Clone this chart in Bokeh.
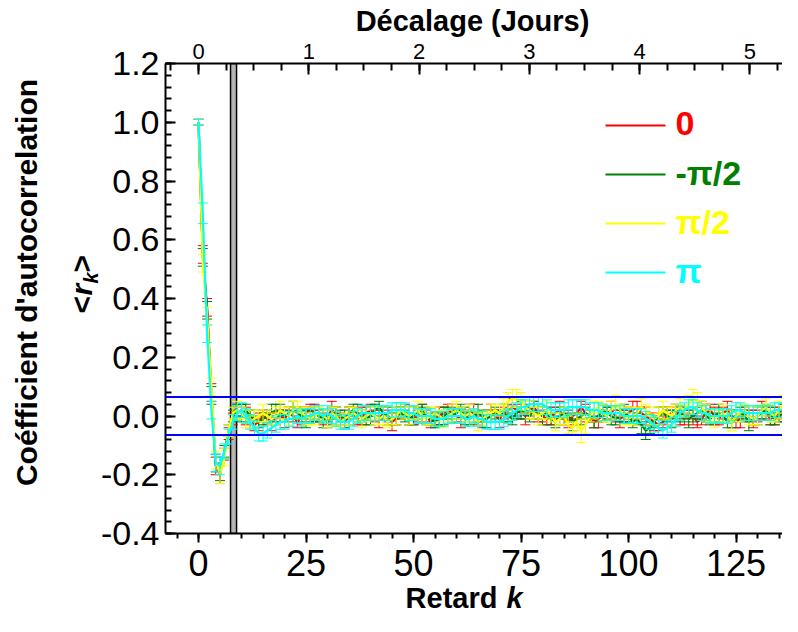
import numpy as np
from bokeh.plotting import figure
from bokeh.models import LinearAxis, Range1d, FixedTicker, PrintfTickFormatter, Span, Label
from bokeh.core.properties import value
from bokeh.embed import file_html
from bokeh.resources import INLINE

# ---------------- data ----------------
lags = list(range(140))

r_0 = [1.00, 0.55, 0.37, 0.08, -0.17, -0.20, -0.13, -0.06, -0.01, 0.01,
       0.02, 0.00, -0.02, -0.03, -0.02, 0.00, -0.01, -0.02, -0.01, 0.00,
       -0.01, 0.01, 0.00, -0.02, 0.00, 0.01, 0.02, 0.01, 0.00, -0.01,
       0.00, 0.02, 0.01, -0.01, -0.02, 0.00, 0.01, -0.01, 0.00, 0.01,
       0.02, 0.00, -0.01, 0.01, 0.00, -0.02, -0.01, 0.01, 0.02, 0.00,
       -0.01, 0.00, 0.01, 0.00, -0.02, -0.01, 0.00, 0.01, 0.02, 0.01,
       0.00, -0.01, 0.00, 0.02, 0.01, -0.01, -0.02, 0.00, 0.01, 0.00,
       -0.01, 0.01, 0.02, 0.03, 0.02, 0.01, 0.00, 0.02, 0.03, 0.01,
       0.00, -0.01, 0.00, 0.01, 0.02, -0.01, -0.02, 0.00, 0.01, 0.03,
       0.01, 0.00, -0.02, -0.01, 0.00, 0.01, 0.02, 0.00, -0.01, 0.00,
       0.01, 0.02, 0.03, 0.01, 0.00, -0.01, -0.02, -0.03, -0.02, 0.00,
       0.01, 0.02, 0.00, -0.01, 0.01, 0.00, -0.02, -0.01, 0.01, 0.02,
       0.00, -0.01, 0.01, 0.02, 0.00, -0.02, -0.01, 0.01, 0.00, -0.01,
       0.00, 0.02, 0.01, -0.01, 0.00, 0.01, 0.02, 0.00, -0.01, 0.01]

r_mpi2 = [1.00, 0.54, 0.36, 0.07, -0.16, -0.19, -0.12, -0.05, 0.00, 0.02,
          0.01, 0.02, 0.00, -0.01, -0.02, -0.01, 0.00, 0.01, 0.02, 0.01,
          0.00, 0.01, 0.02, 0.01, 0.00, -0.01, 0.00, 0.01, 0.00, -0.01,
          -0.02, 0.00, 0.01, 0.00, -0.01, 0.01, 0.02, 0.01, 0.00, -0.01,
          0.00, 0.02, 0.03, 0.01, 0.00, -0.01, 0.00, 0.01, 0.00, -0.01,
          0.00, 0.01, 0.02, 0.00, -0.01, -0.02, -0.01, 0.00, 0.01, 0.00,
          0.01, 0.02, 0.00, -0.01, 0.00, 0.01, 0.00, -0.01, 0.00, 0.01,
          0.00, 0.01, 0.00, -0.01, 0.01, 0.02, 0.01, 0.00, 0.02, 0.01,
          0.00, 0.01, -0.01, -0.02, 0.00, 0.01, 0.00, -0.02, -0.01, 0.00,
          0.01, 0.00, -0.01, 0.00, 0.02, 0.01, 0.00, -0.01, 0.00, 0.01,
          0.00, -0.02, -0.01, -0.03, -0.05, -0.04, -0.02, 0.00, 0.01, 0.00,
          -0.01, 0.00, 0.01, 0.00, -0.01, 0.00, 0.01, 0.02, 0.00, -0.01,
          0.00, 0.01, 0.00, -0.02, -0.01, 0.00, 0.01, 0.00, -0.02, -0.01,
          0.00, 0.01, 0.02, 0.00, -0.01, 0.00, 0.01, 0.00, -0.01, 0.00]

r_pi2 = [1.00, 0.52, 0.34, 0.10, -0.15, -0.20, -0.14, -0.05, 0.01, 0.02,
         0.01, -0.01, -0.02, -0.01, 0.00, 0.01, 0.00, -0.01, 0.00, 0.02,
         0.01, 0.00, 0.02, 0.03, 0.01, 0.00, -0.01, 0.00, 0.01, 0.00,
         -0.01, 0.01, 0.00, -0.02, -0.01, 0.00, 0.01, 0.00, -0.01, 0.00,
         0.01, 0.00, -0.01, 0.00, -0.02, -0.01, 0.00, 0.02, 0.01, 0.00,
         0.01, 0.02, 0.00, -0.01, 0.00, 0.01, 0.00, -0.01, 0.00, 0.01,
         0.02, 0.01, 0.00, 0.01, 0.00, -0.02, -0.01, 0.00, 0.01, 0.02,
         0.01, 0.03, 0.05, 0.06, 0.06, 0.05, 0.03, 0.02, 0.01, 0.00,
         0.01, 0.02, 0.00, -0.02, -0.01, 0.00, -0.03, -0.04, -0.02, -0.05,
         -0.03, 0.00, 0.02, 0.03, 0.01, 0.00, 0.02, 0.04, 0.02, 0.00,
         -0.01, 0.00, 0.01, 0.03, 0.02, 0.00, -0.01, 0.00, 0.02, 0.01,
         0.00, 0.02, 0.03, 0.02, 0.04, 0.06, 0.05, 0.03, 0.01, 0.00,
         -0.01, 0.00, 0.01, 0.00, -0.02, 0.00, 0.01, 0.02, 0.00, -0.01,
         0.00, 0.02, 0.03, 0.01, 0.00, 0.02, 0.04, 0.02, 0.01, 0.00]

r_pi = [1.00, 0.69, 0.28, 0.02, -0.16, -0.17, -0.12, -0.07, -0.02, 0.01,
        0.02, 0.00, -0.02, -0.04, -0.06, -0.06, -0.05, -0.04, -0.03, -0.02,
        -0.02, -0.01, -0.01, 0.00, -0.01, 0.00, 0.00, 0.01, 0.01, 0.00,
        0.01, 0.00, -0.01, -0.02, -0.02, -0.02, -0.01, 0.00, 0.01, 0.01,
        0.01, 0.01, 0.01, 0.01, 0.01, 0.02, 0.02, 0.02, 0.02, 0.01,
        0.01, 0.00, 0.00, 0.00, 0.00, -0.01, -0.01, -0.01, 0.00, 0.00,
        0.00, 0.00, -0.01, -0.01, 0.00, -0.01, -0.01, -0.02, -0.02, -0.02,
        -0.02, -0.01, 0.00, 0.01, 0.02, 0.03, 0.03, 0.04, 0.04, 0.04,
        0.04, 0.03, 0.02, 0.02, 0.02, 0.02, 0.03, 0.03, 0.03, 0.03,
        0.03, 0.02, 0.02, 0.02, 0.01, 0.01, 0.01, 0.01, 0.01, 0.00,
        0.00, 0.00, 0.00, 0.00, -0.01, -0.02, -0.03, -0.04, -0.05, -0.04,
        -0.03, -0.01, 0.01, 0.02, 0.03, 0.03, 0.02, 0.01, 0.01, 0.00,
        0.00, 0.00, 0.00, 0.00, 0.01, 0.02, 0.02, 0.01, 0.01, 0.01,
        0.01, 0.01, 0.01, 0.01, 0.02, 0.02, 0.02, 0.02, 0.03, 0.03]

e_0 = [0.01, 0.03, 0.03, 0.03, 0.03, 0.03, 0.02, 0.02, 0.02, 0.02,
       0.02, 0.03, 0.02, 0.02, 0.03, 0.02, 0.02, 0.03, 0.02, 0.02,
       0.03, 0.02, 0.02, 0.02, 0.03, 0.02, 0.02, 0.03, 0.02, 0.02,
       0.02, 0.03, 0.02, 0.02, 0.02, 0.03, 0.02, 0.02, 0.03, 0.02,
       0.02, 0.02, 0.03, 0.02, 0.02, 0.03, 0.02, 0.02, 0.02, 0.03,
       0.02, 0.02, 0.03, 0.02, 0.02, 0.02, 0.03, 0.02, 0.02, 0.03,
       0.02, 0.03, 0.02, 0.02, 0.03, 0.02, 0.02, 0.02, 0.03, 0.02,
       0.03, 0.02, 0.02, 0.03, 0.02, 0.02, 0.03, 0.02, 0.02, 0.03,
       0.02, 0.02, 0.03, 0.02, 0.03, 0.02, 0.02, 0.03, 0.02, 0.02,
       0.03, 0.02, 0.02, 0.03, 0.02, 0.02, 0.03, 0.02, 0.03, 0.02,
       0.02, 0.03, 0.02, 0.02, 0.03, 0.02, 0.03, 0.02, 0.02, 0.03,
       0.02, 0.02, 0.03, 0.02, 0.02, 0.03, 0.02, 0.02, 0.03, 0.02,
       0.03, 0.02, 0.02, 0.03, 0.02, 0.02, 0.03, 0.02, 0.02, 0.03,
       0.02, 0.03, 0.02, 0.02, 0.03, 0.02, 0.02, 0.03, 0.02, 0.02]

e_mpi2 = [0.01, 0.03, 0.03, 0.03, 0.03, 0.03, 0.02, 0.02, 0.02, 0.02,
          0.03, 0.02, 0.02, 0.03, 0.02, 0.02, 0.02, 0.03, 0.02, 0.03,
          0.02, 0.02, 0.03, 0.02, 0.02, 0.03, 0.02, 0.02, 0.02, 0.03,
          0.02, 0.03, 0.02, 0.02, 0.03, 0.02, 0.02, 0.03, 0.02, 0.02,
          0.03, 0.02, 0.02, 0.02, 0.03, 0.02, 0.03, 0.02, 0.02, 0.02,
          0.03, 0.02, 0.02, 0.03, 0.02, 0.02, 0.02, 0.03, 0.02, 0.02,
          0.02, 0.02, 0.03, 0.02, 0.02, 0.03, 0.02, 0.03, 0.02, 0.02,
          0.02, 0.03, 0.02, 0.02, 0.02, 0.03, 0.02, 0.02, 0.03, 0.02,
          0.03, 0.02, 0.02, 0.02, 0.03, 0.02, 0.02, 0.03, 0.02, 0.03,
          0.02, 0.02, 0.03, 0.02, 0.02, 0.02, 0.03, 0.02, 0.02, 0.03,
          0.02, 0.02, 0.02, 0.03, 0.03, 0.02, 0.02, 0.03, 0.02, 0.02,
          0.03, 0.02, 0.02, 0.02, 0.03, 0.02, 0.02, 0.03, 0.02, 0.02,
          0.02, 0.03, 0.02, 0.02, 0.03, 0.02, 0.02, 0.02, 0.03, 0.02,
          0.03, 0.02, 0.02, 0.03, 0.02, 0.02, 0.03, 0.02, 0.02, 0.02]

e_pi2 = [0.01, 0.03, 0.03, 0.03, 0.03, 0.03, 0.03, 0.02, 0.02, 0.03,
         0.02, 0.03, 0.02, 0.03, 0.02, 0.03, 0.02, 0.02, 0.03, 0.03,
         0.02, 0.03, 0.03, 0.02, 0.02, 0.03, 0.02, 0.03, 0.02, 0.02,
         0.03, 0.02, 0.03, 0.02, 0.02, 0.03, 0.02, 0.02, 0.03, 0.02,
         0.02, 0.03, 0.02, 0.03, 0.02, 0.02, 0.03, 0.02, 0.02, 0.03,
         0.02, 0.03, 0.02, 0.02, 0.03, 0.02, 0.02, 0.03, 0.02, 0.03,
         0.03, 0.02, 0.02, 0.03, 0.02, 0.03, 0.02, 0.02, 0.03, 0.02,
         0.03, 0.03, 0.03, 0.03, 0.03, 0.03, 0.02, 0.03, 0.02, 0.03,
         0.02, 0.03, 0.02, 0.03, 0.02, 0.03, 0.03, 0.02, 0.03, 0.04,
         0.03, 0.02, 0.03, 0.02, 0.03, 0.02, 0.03, 0.03, 0.02, 0.03,
         0.02, 0.03, 0.02, 0.03, 0.02, 0.03, 0.02, 0.03, 0.03, 0.02,
         0.03, 0.02, 0.03, 0.02, 0.03, 0.03, 0.03, 0.02, 0.03, 0.02,
         0.03, 0.02, 0.03, 0.02, 0.03, 0.02, 0.03, 0.02, 0.03, 0.02,
         0.03, 0.02, 0.03, 0.03, 0.02, 0.03, 0.03, 0.02, 0.03, 0.02]

e_pi = [0.01, 0.035, 0.03, 0.03, 0.03, 0.03, 0.025, 0.025, 0.025, 0.025,
        0.025, 0.025, 0.025, 0.025, 0.025, 0.025, 0.025, 0.025, 0.025, 0.025,
        0.025, 0.025, 0.025, 0.025, 0.025, 0.025, 0.025, 0.025, 0.025, 0.025,
        0.025, 0.025, 0.025, 0.025, 0.025, 0.025, 0.025, 0.025, 0.025, 0.025,
        0.025, 0.025, 0.025, 0.025, 0.025, 0.025, 0.025, 0.025, 0.025, 0.025,
        0.025, 0.025, 0.025, 0.025, 0.025, 0.025, 0.025, 0.025, 0.025, 0.025,
        0.025, 0.025, 0.025, 0.025, 0.025, 0.025, 0.025, 0.025, 0.025, 0.025,
        0.025, 0.025, 0.025, 0.025, 0.025, 0.025, 0.025, 0.025, 0.025, 0.025,
        0.025, 0.025, 0.025, 0.025, 0.025, 0.025, 0.025, 0.025, 0.025, 0.025,
        0.025, 0.025, 0.025, 0.025, 0.025, 0.025, 0.025, 0.025, 0.025, 0.025,
        0.025, 0.025, 0.025, 0.025, 0.025, 0.025, 0.025, 0.025, 0.025, 0.025,
        0.025, 0.025, 0.025, 0.025, 0.025, 0.025, 0.025, 0.025, 0.025, 0.025,
        0.025, 0.025, 0.025, 0.025, 0.025, 0.025, 0.025, 0.025, 0.025, 0.025,
        0.025, 0.025, 0.025, 0.025, 0.025, 0.025, 0.025, 0.025, 0.025, 0.025]

series_names = ["0", "-π/2", "π/2", "π"]
series_colors = ["#ff0000", "#008000", "#ffff00", "#00ffff"]

conf_level = 0.065                 # blue confidence bounds (+/-)
gap_start, gap_end = 7.45, 8.85   # grey vertical band (lag units)

x_ticks = [0, 25, 50, 75, 100, 125]
y_ticks = [-0.4, -0.2, 0.0, 0.2, 0.4, 0.6, 0.8, 1.0, 1.2]
day_ticks = [0, 1, 2, 3, 4, 5]
LAGS_PER_DAY = 25.65

# ---------------- layout ----------------
W, H = 782, 616                          # canvas size (fits window with 8px margins)
FL, FT, FR, FB = 165, 63, 782, 533       # frame edges in canvas pixels
PXU = 4.3                                # px per lag
X_START = -(198 - FL) / PXU
X_END = X_START + (FR - FL) / PXU
Y_START, Y_END = -0.4, 1.2
PYU = (FB - FT) / (Y_END - Y_START)
FONT = "Liberation Sans"

def px2x(px):
    return X_START + (px - FL) / PXU

def py2y(py):
    return Y_END - (py - FT) / PYU

p = figure(width=W, height=H, output_backend="svg", toolbar_location=None,
           x_range=Range1d(X_START, X_END), y_range=Range1d(Y_START, Y_END),
           x_axis_location=None, y_axis_location=None,
           min_border_left=FL, min_border_right=W - FR,
           min_border_top=FT, min_border_bottom=H - FB)
p.outline_line_color = None
p.xgrid.visible = False
p.ygrid.visible = False
p.background_fill_color = "white"
p.border_fill_color = "white"

def style_axis(ax, size):
    ax.axis_line_width = 2
    ax.axis_line_color = "black"
    ax.major_tick_line_width = 2
    ax.minor_tick_line_width = 2
    ax.major_tick_line_color = "black"
    ax.minor_tick_line_color = "black"
    ax.major_label_text_font = FONT
    ax.major_label_text_font_size = size
    ax.major_label_text_color = "black"

bottom = LinearAxis(ticker=FixedTicker(ticks=x_ticks, minor_ticks=list(np.arange(-5, 145, 5))))
style_axis(bottom, "36px")
bottom.major_tick_in = 0
bottom.major_tick_out = 9
bottom.minor_tick_in = 0
bottom.minor_tick_out = 5
bottom.major_label_standoff = 7
p.add_layout(bottom, "below")

left = LinearAxis(ticker=FixedTicker(ticks=y_ticks,
                                     minor_ticks=list(np.round(np.arange(-0.4, 1.21, 0.04), 2))),
                  formatter=PrintfTickFormatter(format="%.1f"))
style_axis(left, "34px")
left.major_tick_in = 10
left.major_tick_out = 0
left.minor_tick_in = 6
left.minor_tick_out = 0
left.major_label_standoff = 6
p.add_layout(left, "left")

p.extra_x_ranges = {"days": Range1d(X_START / LAGS_PER_DAY, X_END / LAGS_PER_DAY)}
top = LinearAxis(x_range_name="days",
                 ticker=FixedTicker(ticks=day_ticks, minor_ticks=list(np.arange(-0.25, 5.6, 0.25))))
style_axis(top, "22px")
top.major_tick_in = 11
top.major_tick_out = 0
top.minor_tick_in = 7
top.minor_tick_out = 0
top.major_label_standoff = 5
p.add_layout(top, "above")

# grey band
p.quad(left=[gap_start], right=[gap_end], bottom=[Y_START], top=[Y_END],
       fill_color="#b4b4b4", line_color="black", line_width=1.5)

# confidence lines
for lv in (conf_level, -conf_level):
    p.add_layout(Span(location=lv, dimension="width", line_color="#0000ff", line_width=2))

# series with error bars
all_vals = [r_0, r_mpi2, r_pi2, r_pi]
all_errs = [e_0, e_mpi2, e_pi2, e_pi]
for vals, errs, col in zip(all_vals, all_errs, series_colors):
    lo = [v - e for v, e in zip(vals, errs)]
    hi = [v + e for v, e in zip(vals, errs)]
    p.segment(lags, lo, lags, hi, line_color=col, line_width=1)
    p.scatter(lags, hi, marker="dash", size=10, line_color=col, line_width=1)
    p.scatter(lags, lo, marker="dash", size=10, line_color=col, line_width=1)
    p.line(lags, vals, line_color=col, line_width=2.2)

# legend (manual, coloured text)
leg_py = [125, 174, 223, 272]
for name, col, py in zip(series_names, series_colors, leg_py):
    p.segment([px2x(605)], [py2y(py)], [px2x(665)], [py2y(py)], line_color=col, line_width=2)
    p.add_layout(Label(x=px2x(675), y=py2y(py - 2), text=name, text_color=col,
                       text_font=FONT, text_font_size="34px", text_font_style="bold",
                       text_align="left", text_baseline="middle"))

# texts outside the frame (overlay level text glyphs), anchored at their middle
def outer_text(px, py, s, size, style, align, angle=0):
    p.text(x=[px2x(px)], y=[py2y(py)], text=[s], text_font=value(FONT),
           text_font_size=value(size), text_font_style=value(style),
           text_align=value(align), text_baseline=value("middle"),
           angle=angle, angle_units="deg", text_color="black", level="overlay")

outer_text(472, 20, "Décalage (Jours)", "29px", "bold", "center")
outer_text(505, 597, "Retard ", "29px", "bold", "right")
outer_text(506, 597, "k", "29px", "bold italic", "left")
outer_text(26, 282, "Coéfficient d'autocorrelation", "30px", "bold", "center", angle=90)
rk_parts = [("<", "bold", "30px", 81, 313), ("r", "bold italic", "30px", 81, 295),
            ("k", "bold italic", "20px", 90, 283), (">", "bold", "30px", 81, 272)]
for txt, style, size, bx, by in rk_parts:
    outer_text(bx, by, txt, size, style, "left", angle=90)

open("out.html", "w").write(file_html(p, INLINE))
